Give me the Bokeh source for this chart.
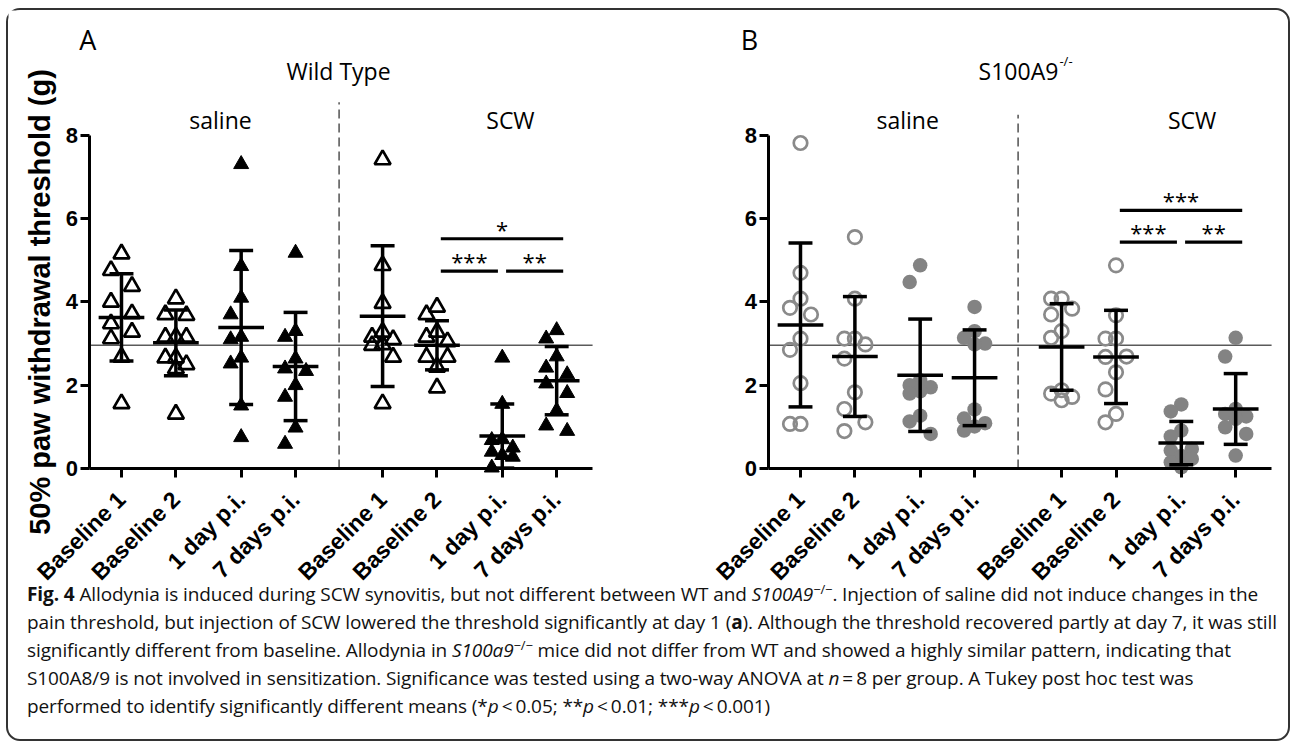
import math
import numpy as np
from bokeh.plotting import figure
from bokeh.models import Range1d, FixedTicker, Div
from bokeh.layouts import row, column
from bokeh.embed import file_html
from bokeh.resources import INLINE
from bokeh.core.properties import value

# ---------------- data ----------------
categories = ["Baseline 1", "Baseline 2", "1 day p.i.", "7 days p.i."] * 2
group_names = ["saline", "SCW"]
y_ticks = [0, 2, 4, 6, 8]
y_label = "50% paw withdrawal threshold (g)"
reference_level = 2.96

# Panel A: Wild Type (open triangles = baselines, filled = p.i.)
wt_values = [
    [5.16, 4.76, 4.38, 4.00, 3.72, 3.48, 3.28, 3.12, 2.68, 1.56],
    [4.08, 3.70, 3.68, 3.16, 3.16, 3.16, 2.66, 2.66, 2.50, 2.40, 1.31],
    [7.31, 4.86, 4.10, 3.70, 3.16, 3.10, 2.66, 2.52, 1.51, 0.75],
    [5.18, 3.30, 3.16, 2.64, 2.40, 2.34, 2.00, 1.72, 0.98, 0.59],
    [7.42, 4.88, 3.97, 3.28, 3.16, 3.10, 2.98, 2.96, 2.68, 1.56],
    [3.88, 3.70, 3.28, 3.16, 3.05, 2.68, 2.68, 2.44, 1.94],
    [2.66, 1.55, 0.70, 0.68, 0.50, 0.40, 0.32, 0.28, 0.02],
    [3.32, 3.12, 2.69, 2.42, 2.26, 2.04, 1.81, 1.39, 1.03, 0.90],
]
wt_mean = [3.63, 3.02, 3.39, 2.45, 3.66, 2.96, 0.78, 2.11]
wt_sd = [1.05, 0.79, 1.85, 1.30, 1.69, 0.59, 0.77, 0.82]

# Panel B: S100A9-/- (open circles = baselines, filled = p.i.)
ko_values = [
    [7.82, 4.70, 4.08, 3.86, 3.70, 3.12, 2.85, 2.05, 1.07, 1.07],
    [5.56, 4.08, 3.12, 3.12, 2.98, 2.64, 1.83, 1.43, 1.11, 0.90],
    [4.88, 4.48, 2.12, 2.00, 1.95, 1.85, 1.80, 1.27, 1.13, 0.83],
    [3.88, 3.30, 3.14, 3.00, 2.98, 1.42, 1.20, 1.09, 1.01, 0.91],
    [4.08, 4.08, 3.84, 3.70, 3.30, 3.14, 1.88, 1.80, 1.72, 1.64],
    [4.88, 3.68, 3.12, 3.12, 2.69, 2.68, 2.31, 1.90, 1.31, 1.11],
    [1.54, 1.37, 0.91, 0.77, 0.47, 0.43, 0.30, 0.23, 0.15, 0.03],
    [3.14, 2.69, 1.43, 1.31, 1.25, 1.19, 0.99, 0.83, 0.31],
]
ko_mean = [3.45, 2.69, 2.24, 2.18, 2.92, 2.68, 0.61, 1.43]
ko_sd = [1.97, 1.44, 1.35, 1.15, 1.04, 1.12, 0.52, 0.85]

# significance comparisons (group index a, group index b, label)
wt_sig = [(5, 6, "***"), (6, 7, "**"), (5, 7, "*")]
ko_sig = [(5, 6, "***"), (6, 7, "**"), (5, 7, "***")]
wt_sig_levels = [4.74, 5.52]
ko_sig_levels = [5.44, 6.20]

caption_lines = [
    "<b>Fig. 4</b> Allodynia is induced during SCW synovitis, but not different between WT and "
    "<i>S100A9</i><sup>\u2212/\u2212</sup>. Injection of saline did not induce changes in the",
    "pain threshold, but injection of SCW lowered the threshold significantly at day 1 (<b>a</b>). "
    "Although the threshold recovered partly at day 7, it was still",
    "significantly different from baseline. Allodynia in <i>S100a9</i><sup>\u2212/\u2212</sup> mice did not "
    "differ from WT and showed a highly similar pattern, indicating that",
    "S100A8/9 is not involved in sensitization. Significance was tested using a two-way ANOVA at "
    "<i>n</i>\u2009=\u20098 per group. A Tukey post hoc test was",
    "performed to identify significantly different means (*<i>p</i>\u2009&lt;\u20090.05; "
    "**<i>p</i>\u2009&lt;\u20090.01; ***<i>p</i>\u2009&lt;\u20090.001)",
]

# ---------------- layout helpers ----------------
PX_X = 54.4      # px per x unit
PX_Y = 41.625    # px per y unit
FIG_H = 582
Y1 = 11.003
Y0 = Y1 - FIG_H / PX_Y
positions = [round(i + 0.2 * ((i % 4) >= 2) + 0.8 * (i >= 4), 3) for i in range(8)]
AX_LEFT, AX_RIGHT = -0.58, 8.66
TICK_FONT = value("Liberation Sans")
TITLE_FONT = value("Open Sans")


def swarm(vals, diam=19.0, step=10.5):
    """Deterministic three-column scatter offsets (in x data units)."""
    vals = np.asarray(vals, dtype=float)
    order = np.argsort(-vals, kind="stable")
    cands = [0.0, -step, step]
    placed = []
    offs = np.zeros(len(vals))
    for idx in order:
        y = vals[idx] * PX_Y
        best, best_d = None, -1.0
        for c in cands:
            d = min([math.hypot(c - px, y - py) for px, py in placed] or [1e9])
            if d >= diam:
                best = c
                break
            if d > best_d:
                best, best_d = c, d
        placed.append((best, y))
        offs[idx] = best / PX_X
    return offs


def make_panel(width, x0, x1, values, means, sds, kind, letter, letter_x,
               title, title_x, sup, group_x, dash_top, sig, sig_levels, ylabel):
    p = figure(width=width, height=FIG_H, x_range=Range1d(x0, x1), y_range=Range1d(Y0, Y1),
               output_backend="svg", toolbar_location=None, title=None,
               min_border_left=0, min_border_right=0, min_border_top=0, min_border_bottom=0)
    p.outline_line_color = None
    p.grid.visible = False
    p.background_fill_color = "white"
    p.border_fill_color = "white"

    # axes
    xa = p.xaxis[0]
    xa.fixed_location = 0
    xa.bounds = (AX_LEFT, AX_RIGHT)
    xa.ticker = FixedTicker(ticks=positions)
    xa.major_label_overrides = {pos: cat for pos, cat in zip(positions, categories)}
    xa.major_label_orientation = math.pi / 4
    ya = p.yaxis[0]
    ya.fixed_location = AX_LEFT
    ya.bounds = (0, 8)
    ya.ticker = FixedTicker(ticks=y_ticks)
    for ax in (xa, ya):
        ax.axis_line_width = 3
        ax.axis_line_color = "black"
        ax.major_tick_line_width = 3
        ax.major_tick_line_color = "black"
        ax.major_tick_out = 9
        ax.major_tick_in = 0
        ax.minor_tick_line_color = None
        ax.major_label_text_font = "Liberation Sans"
        ax.major_label_text_font_style = "bold"
        ax.major_label_text_font_size = "22px"
        ax.major_label_text_color = "black"
    xa.major_label_standoff = 18
    xa.major_label_text_font_size = "23px"
    ya.major_label_standoff = 3

    # reference line and group separator
    p.segment(x0=[AX_LEFT], y0=[reference_level], x1=[AX_RIGHT], y1=[reference_level],
              line_color="#5a5a5a", line_width=1.4)
    sep_x = (positions[3] + positions[4]) / 2
    p.segment(x0=[sep_x], y0=[0], x1=[sep_x], y1=[dash_top],
              line_color="#444444", line_width=1.4, line_dash="9 5")

    # points
    for i, vals in enumerate(values):
        xs = positions[i] + swarm(vals)
        baseline = (i % 4) < 2
        if kind == "triangle":
            if baseline:
                p.scatter(xs, vals, marker="triangle", size=16, fill_alpha=0,
                          line_color="black", line_width=2.7)
            else:
                p.scatter(xs, vals, marker="triangle", size=15, fill_color="black",
                          line_color="black", line_width=1)
        else:
            if baseline:
                p.scatter(xs, vals, marker="circle", size=13.5, fill_alpha=0,
                          line_color="#8a8a8a", line_width=2.7)
            else:
                p.scatter(xs, vals, marker="circle", size=14.5, fill_color="#838383",
                          line_color=None)

    # mean +/- SD
    sx0, sy0, sx1, sy1 = [], [], [], []
    for pos, m, s in zip(positions, means, sds):
        for a, b, c, d in [(pos - 0.42, m, pos + 0.42, m), (pos, m - s, pos, m + s),
                           (pos - 0.22, m + s, pos + 0.22, m + s),
                           (pos - 0.22, m - s, pos + 0.22, m - s)]:
            sx0.append(a); sy0.append(b); sx1.append(c); sy1.append(d)
    p.segment(x0=sx0, y0=sy0, x1=sx1, y1=sy1, line_color="black", line_width=3.5)

    # significance brackets
    bx0, by, bx1, tx, ty, tt = [], [], [], [], [], []
    for a, b, lab in sig:
        lvl = sig_levels[0] if b - a == 1 else sig_levels[1]
        left = positions[a] + 0.07
        right = positions[b] + (0.12 if b == 7 else -0.08)
        bx0.append(left); bx1.append(right); by.append(lvl)
        tx.append((left + right) / 2); ty.append(lvl + 0.24); tt.append(lab)
    p.segment(x0=bx0, y0=by, x1=bx1, y1=by, line_color="black", line_width=3.2)
    p.text(x=tx, y=ty, text=tt, text_font=TITLE_FONT, text_font_size="22px",
           text_align="center", text_baseline="middle", text_color="black")

    # titles
    p.text(x=[letter_x], y=[10.3], text=[letter], text_font=TITLE_FONT, text_font_size="27px",
           text_align="center", text_baseline="middle", text_color="black")
    if sup:
        p.text(x=[title_x], y=[9.56], text=[title], text_font=TITLE_FONT, text_font_size="23px",
               text_align="right", text_baseline="middle", text_color="black")
        p.text(x=[title_x + 0.02], y=[9.80], text=[sup], text_font=TITLE_FONT,
               text_font_size="13px", text_align="left", text_baseline="middle",
               text_color="black")
    else:
        p.text(x=[title_x], y=[9.56], text=[title], text_font=TITLE_FONT, text_font_size="23px",
               text_align="center", text_baseline="middle", text_color="black")
    p.text(x=group_x, y=[8.38, 8.38], text=group_names, text_font=TITLE_FONT,
           text_font_size="23px", text_align="center", text_baseline="middle",
           text_color="black")
    if ylabel:
        p.text(x=[-1.5], y=[4.0], text=[ylabel], angle=math.pi / 2, text_font=TICK_FONT,
               text_font_style="bold", text_font_size="29px", text_align="center",
               text_baseline="middle", text_color="black")
    return p


pA = make_panel(640, -2.077, 9.688, wt_values, wt_mean, wt_sd, "triangle", "A", -0.62,
                "Wild Type", 3.99, None, [1.82, 7.15], 8.8, wt_sig, wt_sig_levels, y_label)
pB = make_panel(630, -2.794, 8.787, ko_values, ko_mean, ko_sd, "circle", "B", -0.94,
                "S100A9", 4.74, "-/-", [1.97, 7.2], 8.5, ko_sig, ko_sig_levels, None)

caption_html = ('<div style="position:relative; top:-17px;">' + "<br>".join(caption_lines)
                + "</div>")
caption = Div(text=caption_html, width=1270, height=137,
              styles={"font-family": "'Open Sans', sans-serif", "font-size": "19px",
                      "line-height": "28px", "padding-left": "14px", "white-space": "nowrap",
                      "color": "#111111", "letter-spacing": "-0.1px", "overflow": "visible"},
              stylesheets=[":host { overflow: visible !important; }",
                           "sup { font-size: 0.68em; line-height: 0; vertical-align: 0.55em; }"])

layout = column(row(pA, pB), caption,
                styles={"border": "2px solid #333333", "border-radius": "14px",
                        "background-color": "white", "margin-left": "6px",
                        "margin-top": "8px"})

open("out.html", "w").write(file_html(layout, INLINE))
